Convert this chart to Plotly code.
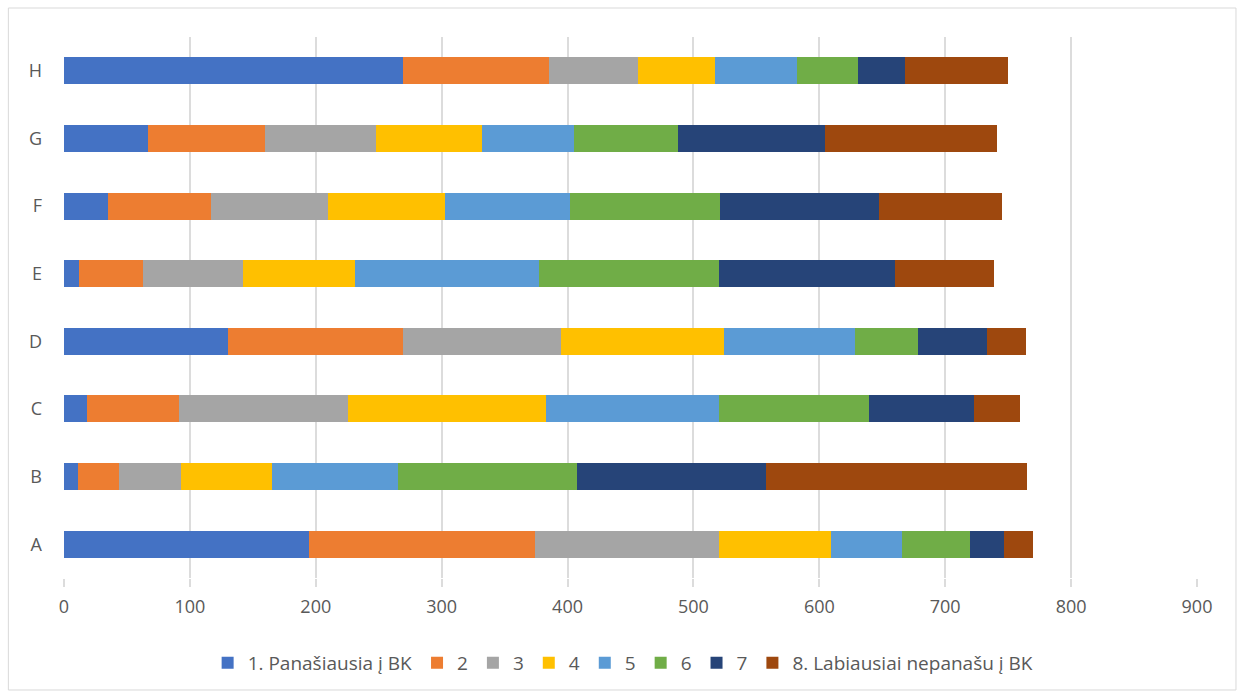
import plotly.graph_objects as go

categories = ["A", "B", "C", "D", "E", "F", "G", "H"]
series_names = ["1. Panašiausia į BK", "2", "3", "4", "5", "6", "7", "8. Labiausiai nepanašu į BK"]

s1 = [195, 11, 18, 130, 12, 35, 67, 269]
s2 = [179, 32.5, 73, 139.5, 51, 82, 93, 116]
s3 = [146, 49.5, 134.5, 125, 79, 93, 88, 71]
s4 = [89.5, 72.5, 157, 130, 89, 93, 84, 61]
s5 = [56, 99.5, 138, 104, 146, 99, 73.5, 65]
s6 = [54, 142.5, 119, 50, 143.5, 119, 82, 49]
s7 = [27.5, 150.5, 83.5, 55, 139.5, 126, 117, 37]
s8 = [22.5, 207, 36.5, 31, 79, 98, 137, 82]
series_values = [s1, s2, s3, s4, s5, s6, s7, s8]

colors = ["#4472C4", "#ED7D31", "#A5A5A5", "#FFC000", "#5B9BD5", "#70AD47", "#264478", "#9E480E"]
x_ticks = [0, 100, 200, 300, 400, 500, 600, 700, 800, 900]

fig = go.Figure()
for name, vals, col in zip(series_names, series_values, colors):
    fig.add_trace(go.Bar(
        y=categories, x=vals, name=name, orientation="h",
        marker=dict(color=col, line=dict(width=0)),
    ))

font_family = "Open Sans, sans-serif"
fig.update_layout(
    barmode="stack",
    bargap=0.6,
    width=1244, height=698,
    margin=dict(l=64, r=47, t=37, b=120),
    paper_bgcolor="white",
    plot_bgcolor="white",
    font=dict(family=font_family, size=16, color="#595959"),
    xaxis=dict(
        range=[0, 900], tickvals=x_ticks, showgrid=True, gridcolor="#dcdcdc", gridwidth=2,
        zeroline=False, showline=False, ticks="outside", ticklen=8, tickcolor="#dcdcdc",
        tickwidth=2, tickfont=dict(size=18, color="#595959"), ticklabelstandoff=4,
        fixedrange=True,
    ),
    yaxis=dict(
        showgrid=False, showline=False, zeroline=False, ticks="",
        tickfont=dict(size=18, color="#595959"), ticklabelstandoff=21,
    ),
    legend=dict(
        orientation="h", x=0.4935, xanchor="center", y=-0.157, yanchor="middle",
        font=dict(size=19, color="#595959"), traceorder="normal",
        itemwidth=30,
    ),
    showlegend=True,
    shapes=[dict(type="rect", xref="paper", yref="paper", x0=-0.0491, x1=1.0344,
                 y0=-0.207, y1=1.0536, line=dict(color="#d9d9d9", width=1), layer="below")],
)

fig.write_html("out.html")
